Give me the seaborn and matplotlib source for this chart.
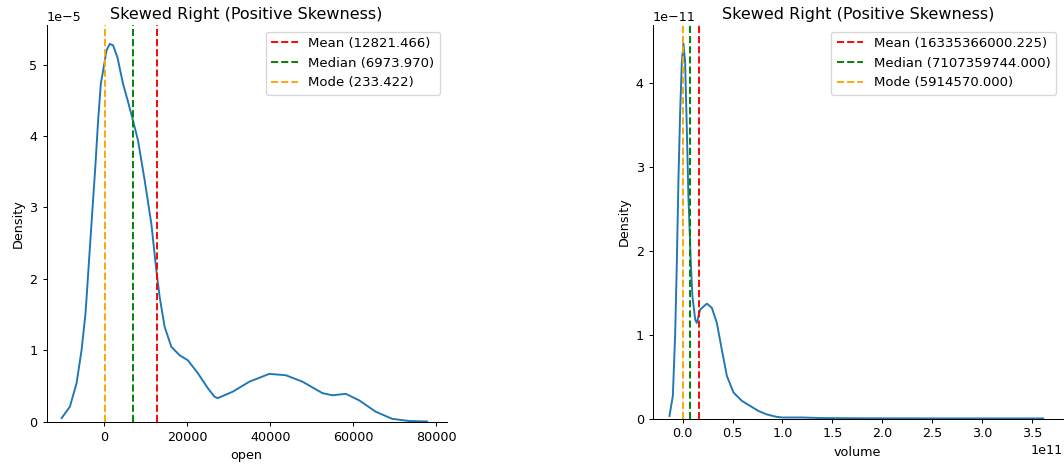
import numpy as np
import pandas as pd
import matplotlib
matplotlib.use("Agg")
import matplotlib.pyplot as plt
import seaborn as sns

# Kernel density curve of the "open" column (density in units of 1e-5)
open_x = [-10230, -8240, -6630, -5430, -4470, -3670, -2880, -2070, -1440, -790,
          -70, 580, 1370, 2160, 3220, 4560, 5760, 6720, 8160, 9770, 11380,
          12580, 13370, 14570, 16180, 18180, 20170, 22570, 24970, 26580, 27370,
          30970, 34980, 39780, 43790, 47780, 52580, 54980, 58190, 61390, 65400,
          69390, 73400, 77800]
open_density = [0.05, 0.21, 0.54, 1.00, 1.52, 2.22, 2.91, 3.61, 4.22, 4.73,
                4.97, 5.20, 5.29, 5.27, 5.10, 4.73, 4.48, 4.27, 3.94, 3.38, 2.77,
                2.12, 1.75, 1.33, 1.05, 0.93, 0.86, 0.68, 0.47, 0.35, 0.33,
                0.42, 0.56, 0.67, 0.65, 0.56, 0.40, 0.37, 0.39, 0.30, 0.14,
                0.04, 0.01, 0.003]

# Kernel density curve of the "volume" column (x in 1e11, density in 1e-11)
volume_x = [-0.132, -0.098, -0.075, -0.058, -0.042, -0.025, -0.008, 0.008,
            0.025, 0.042, 0.058, 0.082, 0.098, 0.126, 0.142, 0.176, 0.243,
            0.293, 0.343, 0.393, 0.443, 0.51, 0.594, 0.677, 0.76, 0.84, 0.94,
            1.0, 1.2, 1.4, 1.7, 2.0, 2.5, 3.0, 3.615]
volume_density = [0.03, 0.27, 1.00, 1.86, 2.85, 3.65, 4.25, 4.47, 4.25, 3.45,
                  2.65, 1.86, 1.46, 1.18, 1.14, 1.30, 1.37, 1.32, 1.14, 0.82,
                  0.51, 0.31, 0.21, 0.15, 0.09, 0.05, 0.02, 0.012, 0.012, 0.005,
                  0.003, 0.002, 0.001, 0.001, 0.0005]

# Summary statistics for each column
open_stats = {"Mean": 12821.466, "Median": 6973.970, "Mode": 233.422}
volume_stats = {"Mean": 16335366000.225, "Median": 7107359744.000, "Mode": 5914570.000}
stat_colors = {"Mean": "red", "Median": "green", "Mode": "orange"}

dpi = 92
fig = plt.figure(figsize=(1064 / dpi, 466 / dpi), dpi=dpi)
ax1 = fig.add_axes([46.5 / 1064, 1 - 421.7 / 466, 400 / 1064, (421.7 - 25) / 466])
ax2 = fig.add_axes([652.7 / 1064, 1 - 418.5 / 466, 410 / 1064, (418.5 - 25) / 466])

panels = [
    (ax1, pd.DataFrame({"open": np.array(open_x, float),
                        "Density": np.array(open_density) * 1e-5}),
     "open", open_stats, (-13870, 82450)),
    (ax2, pd.DataFrame({"volume": np.array(volume_x) * 1e11,
                        "Density": np.array(volume_density) * 1e-11}),
     "volume", volume_stats, (-0.30e11, 3.81e11)),
]

for ax, df, col, stats, xlim in panels:
    sns.lineplot(data=df, x=col, y="Density", ax=ax, color="#1f77b4", linewidth=1.5)
    ax.set_ylim(bottom=0)
    ax.set_xlim(*xlim)
    for name, value in stats.items():
        ax.axvline(value, color=stat_colors[name], linestyle="--", linewidth=1.5,
                   label=f"{name} ({value:.3f})")
    ax.set_title("Skewed Right (Positive Skewness)", fontsize=12.5, pad=5)
    ax.set_xlabel(col)
    ax.set_ylabel("Density")
    ax.legend(loc="upper right", fontsize=10.4)
    sns.despine(ax=ax)

fig.savefig("out.png", dpi=dpi)
